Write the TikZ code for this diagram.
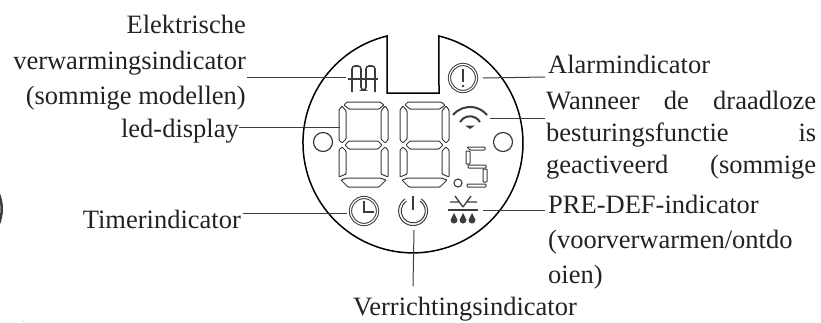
\documentclass[tikz,border=0pt]{standalone}
\usepackage{fontspec}
\usepackage{xcolor}
\usepackage{tikz}
\usetikzlibrary{positioning}
\setmainfont{Liberation Serif}
\definecolor{inkgray}{HTML}{3C3C3C}
\definecolor{textgray}{HTML}{222222}

\begin{document}
\begin{tikzpicture}[
	x=1pt,
	y=-1pt,
	node distance=10pt,
	label_text/.style={
		inner sep=0pt,
		text=textgray,
		font=\fontsize{26.5}{35.5}\selectfont
	},
	icon/.style={
		inner sep=0pt,
		minimum size=28pt
	},
	ring/.style={
		circle,
		draw=inkgray,
		line width=1pt,
		double,
		double distance=1.2pt,
		inner sep=0pt,
		minimum size=27pt
	},
	lead/.style={
		draw=inkgray,
		line width=1pt
	},
	panel/.style={
		draw=black,
		line width=1.5pt
	},
	segment/.style={
		draw=inkgray,
		line width=1pt,
		rounded corners=0.8pt
	}
	]
	\useasboundingbox (0,0) rectangle (821,322);
	
	% face of the panel
	\draw[panel] (387,36) arc[start angle=256.34, end angle=-76.34, radius=110] -- (439,93) -- (387,93) -- cycle;
	\node (hole_left) [circle, draw=inkgray, line width=1.2pt, minimum size=19pt, inner sep=0pt] at (323,142) {};
	\node (hole_right) [circle, draw=inkgray, line width=1.2pt, minimum size=19pt, inner sep=0pt] at (503,142) {};
	
	% icons
	\node (heater) [icon] at (363,77) {};
	\node (alarm) [ring] at (463,78) {};
	\node (wifi) [icon] at (471,118) {};
	\node (display) [inner sep=0pt, minimum width=50pt, minimum height=85pt] at (364,144.5) {};
	\node (timer) [ring] at (364,211) {};
	\node (power) [icon] at (413,211) {};
	\node (predef) [icon] at (463,210) {};
	
	% big digits
	\foreach \dx in {339,400} {
		\begin{scope}[shift={(\dx,102)}]
			\draw[segment] (5,3) -- (8,0) -- (41,0) -- (45,3) -- (40,7) -- (10,7) -- cycle;
			\draw[segment] (0,8) -- (3,4) -- (7,9) -- (7,37) -- (3,41) -- (0,38) -- cycle;
			\draw[segment] (49,8) -- (46,4) -- (42,9) -- (42,37) -- (46,41) -- (49,38) -- cycle;
			\draw[segment] (6,43) -- (10,39) -- (39,39) -- (43,43) -- (39,47) -- (10,47) -- cycle;
			\draw[segment] (0,48) -- (3,45) -- (7,49) -- (7,72) -- (0,75) -- cycle;
			\draw[segment] (49,48) -- (46,45) -- (42,49) -- (42,72) -- (49,75) -- cycle;
			\draw[segment] (2,78) -- (8,76) -- (41,76) -- (47,78) -- (40,85) -- (9,85) -- cycle;
		\end{scope}
	}
	
	% small digit
	\draw[segment] (467,147) -- (485,147) -- (485,150) -- (470,150) -- cycle;
	\draw[segment] (466,151) -- (470,151) -- (470,164) -- (466,164) -- cycle;
	\draw[segment] (468,165) -- (486,165) -- (486,168) -- (468,168) -- cycle;
	\draw[segment] (483,169) -- (487,169) -- (487,182) -- (483,182) -- cycle;
	\draw[segment] (467,184) -- (486,184) -- (486,187) -- (467,187) -- cycle;
	\node (point) [circle, draw=inkgray, line width=1.1pt, minimum size=8pt, inner sep=0pt] at (458,183) {};
	
	% heater symbol
	\draw[inkgray, line width=1.6pt, rounded corners=3pt] (352,92) -- (352,66) -- (361,66) -- (361,90) -- (366,90) -- (366,66) -- (375,66) -- (375,92);
	\draw[inkgray, line width=1.2pt] (348,79) -- (378,79);
	
	% alarm mark
	\draw[inkgray, line width=1.8pt] (463,69) -- (463,82);
	\fill[inkgray] (463,86) circle[radius=1.3];
	
	% wireless mark
	\draw[inkgray, line width=2pt] (453,115) arc[start angle=219.4, end angle=320.6, radius=22];
	\draw[inkgray, line width=2pt] (460,122) arc[start angle=210, end angle=330, radius=11.5];
	\fill[inkgray] (470,129) -- (465,125.5) -- (475,125.5) -- cycle;
	
	% clock hands
	\draw[inkgray, line width=1.6pt] (364,201) -- (364,212) -- (374,212);
	
	% power mark
	\draw[inkgray, line width=1pt] (405,199) arc[start angle=236, end angle=-56, radius=14.5];
	\draw[inkgray, line width=1pt] (406.5,201) arc[start angle=236, end angle=-56, radius=12];
	\draw[inkgray, line width=1.6pt] (413,196) -- (413,210);
	
	% defrost mark
	\draw[inkgray, line width=1.5pt] (448,210) -- (478,210);
	\draw[inkgray, line width=1.3pt] (463,207) -- (455,196) (463,207) -- (471,196) (450,202) -- (459,202) (467,202) -- (477,202);
	\foreach \dropx in {454,463,472} {
		\fill[inkgray] (\dropx,213) -- (\dropx+3.5,220) arc[start angle=0, end angle=180, radius=3.5] -- cycle;
	}
	
	% scrap at the left edge
	\draw[inkgray, line width=2.5pt] (-2,192) arc[start angle=-25, end angle=25, radius=40];
	\fill[gray] (23,321) circle[radius=0.5];
	
	% labels
	\node (heater_label) [label_text, align=right, anchor=north east] at (246,15) {Elektrische\\verwarmingsindicator\\(sommige modellen)};
	\node (display_label) [label_text, anchor=base east] at (239,137) {led-display};
	\node (timer_label) [label_text, anchor=base east] at (241,228) {Timerindicator};
	\node (power_label) [label_text, anchor=base] at (465,315) {Verrichtingsindicator};
	\node (alarm_label) [label_text, anchor=base west] at (548,73) {Alarmindicator};
	\node (wifi_label) [label_text, font=\fontsize{26.5}{32}\selectfont, align=left, anchor=north west] at (546,91) {\makebox[270pt][s]{Wanneer de draadloze}\\\makebox[270pt][s]{besturingsfunctie is}\\\makebox[270pt][s]{geactiveerd (sommige}};
	\node (predef_label) [label_text, font=\fontsize{26.5}{35}\selectfont, align=left, anchor=north west] at (548,195) {PRE-DEF-indicator\\(voorverwarmen/ontdo\\oien)};
	
	% leads
	\draw[lead] ([xshift=1pt]heater_label.east |- heater) -- ([xshift=-3pt]heater.west);
	\draw[lead] (display_label.east |- display.west) ++(0,-17.5) -- (340,127);
	\draw[lead] ([xshift=2pt]timer_label.east |- timer) ++(0,2) -- (347,213);
	\draw[lead] (power.south) ++(1,5) -- ([yshift=10pt]power_label.north -| power.south) ++(1,0);
	\draw[lead] ([xshift=-3pt]alarm_label.west |- alarm) ++(0,-1) -- ([xshift=6pt]alarm.east);
	\draw[lead] ([xshift=-1pt]wifi_label.west |- wifi) -- ([xshift=5pt]wifi.east);
	\draw[lead] ([xshift=-3pt]predef_label.west |- predef) -- ([xshift=6pt]predef.east);
\end{tikzpicture}
\end{document}
